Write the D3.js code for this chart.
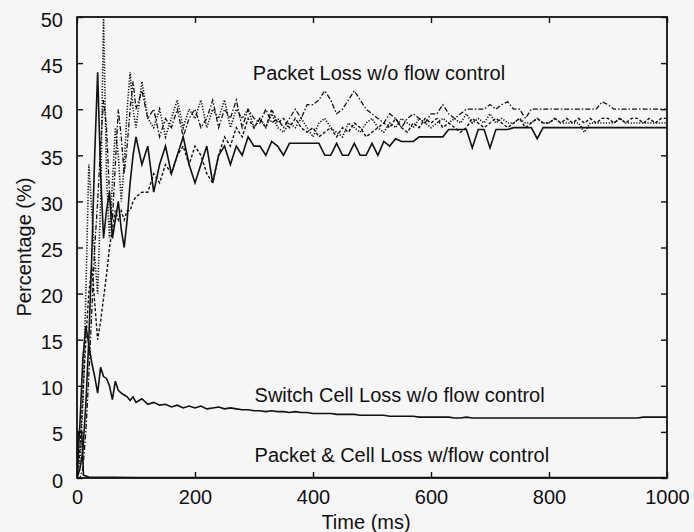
<!DOCTYPE html>
<html>
<head>
<meta charset="utf-8">
<script src="https://cdn.jsdelivr.net/npm/d3@7"></script>
<style>
  body { margin: 0; background: #f6f6f6; }
  svg { display: block; font-family: "Liberation Sans", Arial, sans-serif; }
  .axis text { font-size: 20px; fill: #111; }
  .axis line { stroke: #111; stroke-width: 1.4; }
  .axis path { display: none; }
  .note { font-size: 20px; fill: #111; }
</style>
</head>
<body>
<svg id="chart" width="694" height="532"></svg>
<script>
// time grid (ms)
const times = [
  0, 5, 10, 15, 20, 25, 30, 35, 40, 45, 50, 55, 60, 65, 70, 75, 80, 85, 90, 95, 100,
  110, 120, 130, 140, 150, 160, 170, 180, 190, 200,
  210, 220, 230, 240, 250, 260, 270, 280, 290, 300,
  310, 320, 330, 340, 350, 360, 370, 380, 390, 400,
  410, 420, 430, 440, 450, 460, 470, 480, 490, 500,
  510, 520, 530, 540, 550, 560, 570, 580, 590, 600,
  610, 620, 630, 640, 650, 660, 670, 680, 690, 700,
  710, 720, 730, 740, 750, 760, 770, 780, 790, 800,
  810, 820, 830, 840, 850, 860, 870, 880, 890, 900,
  910, 920, 930, 940, 950, 960, 970, 980, 990, 1000
];

// packet loss w/o flow control, four runs
const packetSolid = [
  0, 1, 3, 8, 15, 24, 35, 44, 33, 26, 29, 31, 26, 28, 30, 27, 25, 28, 32, 35, 37,
  34, 36, 31, 34, 36, 33, 35, 37, 34, 32,
  34, 36, 32, 35, 36, 34, 36, 35, 37, 36,
  36, 35, 36.5, 36, 35, 36.3, 36.3, 36.3, 36.3, 36.3,
  36.3, 35, 35, 36.3, 35, 35, 36.3, 35, 35, 36.3,
  35, 36.5, 36, 36.8, 36.5, 36.5, 36.5, 37, 37, 37,
  37, 37, 37.8, 37.8, 37.8, 37.8, 35.8, 37.8, 37.8, 35.8,
  37.8, 37.8, 37.8, 38, 38, 38, 38, 36.8, 38, 38,
  38, 38, 38, 38, 38, 38, 38, 38, 38, 38,
  38, 38, 38, 38, 38, 38, 38, 38, 38, 38
];

const packetDotted = [
  0, 2, 8, 20, 34, 29, 24, 20, 30, 50, 33, 26, 32, 38, 35, 30, 34, 40, 44, 40, 38,
  43, 39, 38, 40, 37, 39, 41, 38, 40, 39,
  41, 38, 40, 39, 41, 38, 40, 39, 40, 38,
  39, 38, 39.5, 38, 37.5, 38.5, 38, 39, 38, 37,
  38.5, 39, 38, 37.5, 37, 38.5, 38, 37.5, 38.5, 39,
  38, 37.5, 38.5, 38, 39, 38.5, 38, 39, 38.5, 38,
  38.5, 39, 38.5, 39, 38.5, 39.5, 38.5, 39, 38.5, 39.5,
  38.5, 39, 38.5, 38.5, 39, 38.5, 38.5, 39, 38.5, 38.5,
  39, 38.5, 38.5, 38.5, 38.5, 37.5, 38.5, 38.5, 38.5, 38.5,
  38.5, 39, 38.5, 38.5, 38.5, 38.5, 38.5, 38.5, 38.5, 38.5
];

const packetDashed = [
  0, 3, 9, 15, 20, 23, 19, 15, 17, 19.5, 22, 25, 27, 29, 28, 29, 28, 29, 29, 30, 30.5,
  31, 31, 33, 32, 34, 33, 35, 36, 34, 36,
  35, 33, 32, 35, 37, 36, 38, 37, 39, 38,
  39, 38, 40, 38.5, 39, 38, 39, 38, 37.5, 38,
  37, 37.5, 38, 37, 38, 37.5, 38.5, 38, 37, 37.5,
  38, 38.5, 38, 39, 38, 37.5, 38.5, 38, 39, 38.5,
  39, 38, 38.5, 38, 37.5, 38, 39, 38.5, 38, 38.5,
  39, 38.5, 38, 38.5, 39, 38, 38.5, 39, 38.5, 38.5,
  39, 38.5, 39, 38.5, 39, 38.5, 39, 38.5, 39, 39,
  38.5, 39, 38.5, 39, 39, 38.5, 39, 38.5, 39, 39
];

const packetDashDot = [
  0, 0, 1, 5, 11, 18, 25, 30, 36, 41, 38, 31, 28, 34, 40, 37, 33, 36, 40, 43, 40,
  42, 39, 40, 37, 39, 38, 40, 37, 39, 40,
  38, 39, 41, 38, 40, 39, 41, 38, 40, 39,
  38.5, 40, 38.5, 39, 38, 39, 40, 39, 40.5, 40.5,
  41, 42, 41, 39.5, 40, 41, 42, 41, 40, 39.5,
  39, 38.5, 39.5, 39, 38, 39, 39.5, 39, 38.5, 39.5,
  39.5, 40.5, 39.5, 39, 39.5, 40, 40, 40, 40, 40.5,
  40, 40.5, 40.8, 40, 40, 39, 40, 40, 40, 40,
  40, 40, 40, 40, 40, 40, 40, 40, 40.8, 40.5,
  40, 40, 40, 40, 40, 40, 40, 40, 40, 40
];

// switch cell loss w/o flow control
const switchCell = [
  0, 6, 13, 16.5, 14.5, 12.5, 11, 9.2, 12, 11, 10.8, 10, 8.5, 10.5, 9.5, 9.2, 9, 8.8, 8.4, 8.8, 8.2,
  8.6, 8.0, 8.2, 7.9, 8.0, 7.7, 7.9, 7.6, 7.8, 7.6,
  7.8, 7.5, 7.6, 7.7, 7.5, 7.6, 7.5, 7.4, 7.4, 7.3,
  7.3, 7.2, 7.3, 7.2, 7.2, 7.1, 7.2, 7.1, 7.1, 7.0,
  7.0, 7.0, 7.0, 6.9, 6.9, 6.9, 6.9, 6.8, 6.8, 6.8,
  6.8, 6.8, 6.7, 6.7, 6.7, 6.7, 6.7, 6.6, 6.6, 6.6,
  6.6, 6.6, 6.6, 6.5, 6.5, 6.6, 6.5, 6.5, 6.5, 6.5,
  6.5, 6.5, 6.5, 6.5, 6.5, 6.5, 6.5, 6.5, 6.5, 6.5,
  6.5, 6.5, 6.5, 6.5, 6.5, 6.5, 6.5, 6.5, 6.5, 6.5,
  6.5, 6.5, 6.5, 6.5, 6.5, 6.6, 6.6, 6.6, 6.6, 6.6
];

// packet & cell loss with flow control
const flowTimes = [0, 2, 8, 11, 20, 100, 1000];
const flowLoss = [0, 5, 5, 0.3, 0.1, 0.05, 0.05];

const xTicks = [0, 200, 400, 600, 800, 1000];
const yTicks = [0, 5, 10, 15, 20, 25, 30, 35, 40, 45, 50];

const notes = [
  { t: 298, v: 43.2, text: "Packet Loss w/o flow control" },
  { t: 301, v: 8.2, text: "Switch Cell Loss w/o flow control" },
  { t: 301, v: 1.7, text: "Packet & Cell Loss w/flow control" }
];

const svg = d3.select("#chart");
const x = d3.scaleLinear().domain([0, 1000]).range([77, 667]);
const y = d3.scaleLinear().domain([0, 50]).range([478, 17]);

svg.append("defs").append("clipPath")
    .attr("id", "plot-clip")
  .append("rect")
    .attr("x", x(0))
    .attr("y", y(50))
    .attr("width", x(1000) - x(0))
    .attr("height", y(0) - y(50));

// axes, ticks pointing inward on all four sides
svg.append("g")
    .attr("class", "axis")
    .attr("transform", `translate(0,${y(0)})`)
    .call(d3.axisBottom(x).tickValues(xTicks).tickSize(-6).tickPadding(12).tickFormat(d3.format("d")));

svg.append("g")
    .attr("class", "axis")
    .attr("transform", `translate(0,${y(50)})`)
    .call(d3.axisTop(x).tickValues(xTicks).tickSize(-6).tickFormat(""));

const left = svg.append("g")
    .attr("class", "axis")
    .attr("transform", `translate(${x(0)},0)`)
    .call(d3.axisLeft(y).tickValues(yTicks).tickSize(-6).tickPadding(14));
left.selectAll("text").attr("dy", "0.45em");

svg.append("g")
    .attr("class", "axis")
    .attr("transform", `translate(${x(1000)},0)`)
    .call(d3.axisRight(y).tickValues(yTicks).tickSize(-6).tickFormat(""));

svg.append("rect")
    .attr("x", x(0))
    .attr("y", y(50))
    .attr("width", x(1000) - x(0))
    .attr("height", y(0) - y(50))
    .attr("fill", "none")
    .attr("stroke", "#111")
    .attr("stroke-width", 1.8);

const line = d3.line()
    .x((d, i) => x(times[i]))
    .y(d => y(d));

const series = [
  { values: packetDashDot, dash: "5,2,1.5,2", width: 1.3 },
  { values: packetDashed, dash: "3,2", width: 1.4 },
  { values: packetDotted, dash: "1.2,1.6", width: 1.6 },
  { values: packetSolid, dash: null, width: 1.6 },
  { values: switchCell, dash: null, width: 1.6 }
];

const plot = svg.append("g").attr("clip-path", "url(#plot-clip)");

plot.selectAll("path.run")
    .data(series)
    .enter().append("path")
    .attr("class", "run")
    .attr("d", d => line(d.values))
    .attr("fill", "none")
    .attr("stroke", "#111")
    .attr("stroke-width", d => d.width)
    .attr("stroke-dasharray", d => d.dash);

plot.append("path")
    .attr("d", d3.line().x((d, i) => x(flowTimes[i])).y(d => y(d))(flowLoss))
    .attr("fill", "none")
    .attr("stroke", "#111")
    .attr("stroke-width", 1.6);

svg.selectAll("text.note")
    .data(notes)
    .enter().append("text")
    .attr("class", "note")
    .attr("x", d => x(d.t))
    .attr("y", d => y(d.v))
    .text(d => d.text);

svg.append("text")
    .attr("class", "note")
    .attr("x", 366)
    .attr("y", 529)
    .style("text-anchor", "middle")
    .text("Time (ms)");

svg.append("text")
    .attr("class", "note")
    .attr("transform", "translate(31,247) rotate(-90)")
    .style("text-anchor", "middle")
    .text("Percentage (%)");
</script>
</body>
</html>
